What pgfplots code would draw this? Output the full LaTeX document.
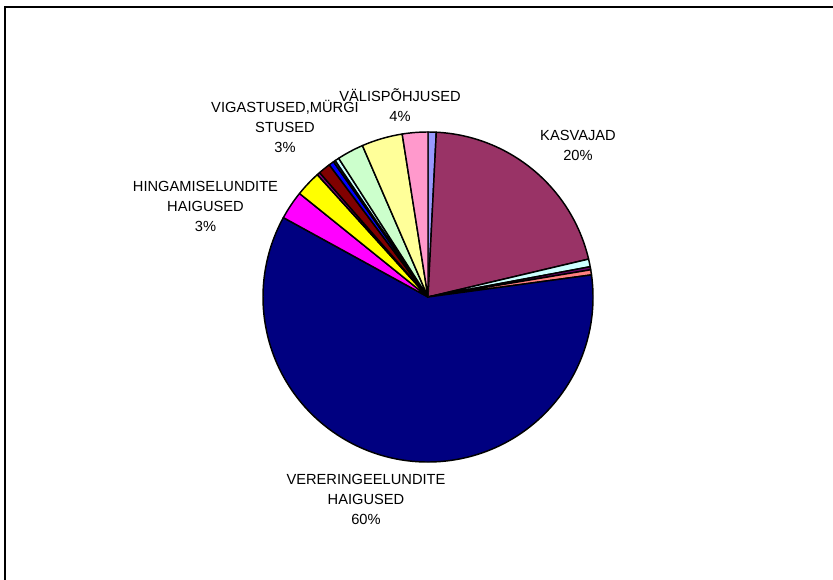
\documentclass[border=0pt]{standalone}
\usepackage{pgfplots}
\pgfplotsset{compat=1.18}
\usepackage{fontspec}
\setmainfont{Liberation Sans}
\definecolor{cPeri}{HTML}{9999FF}
\definecolor{cMaroon}{HTML}{993366}
\definecolor{cLCyan}{HTML}{CCFFFF}
\definecolor{cDPurple}{HTML}{660066}
\definecolor{cSalmon}{HTML}{FF8080}
\definecolor{cNavy}{HTML}{000080}
\definecolor{cMagenta}{HTML}{FF00FF}
\definecolor{cYellow}{HTML}{FFFF00}
\definecolor{cPurple}{HTML}{800080}
\definecolor{cDRed}{HTML}{800000}
\definecolor{cBlue}{HTML}{0000FF}
\definecolor{cTeal}{HTML}{008080}
\definecolor{cLGreen}{HTML}{CCFFCC}
\definecolor{cLYellow}{HTML}{FFFF99}
\definecolor{cPink}{HTML}{FF99CC}
% slice shares (percent), clockwise from 12 o'clock
\def\slicelist{0.8/cPeri, 20.5/cMaroon, 0.75/cLCyan, 0.3/cDPurple, 0.5/cSalmon, 60.1/cNavy, 2.8/cMagenta, 2.5/cYellow, 0.3/cPurple, 1.2/cDRed, 0.5/cBlue, 0.2/cTeal, 0.4/cLCyan, 2.6/cLGreen, 4.0/cLYellow, 2.5/cPink}
\begin{document}
\begin{tikzpicture}
\begin{axis}[
  name=ax, at={(0,0)}, anchor=south west,
  x=123.75pt, y=123.75pt,
  xmin=-2.5939, xmax=2.4545,
  ymin=-1.7091, ymax=1.8,
  hide axis, clip=false,
  font=\fontsize{11pt}{15pt}\selectfont,
]
% frame (top and left edges)
\draw[black, line width=0.8pt] (axis cs:-2.5636,-1.75) -- (axis cs:-2.5636,1.7576) -- (axis cs:2.5,1.7576);
% total
\gdef\total{0}
\foreach \v/\c in \slicelist {\pgfmathsetmacro{\tt}{\total+\v}\xdef\total{\tt}}
\gdef\cum{0}
\foreach \v/\c in \slicelist {
  \pgfmathsetmacro{\fa}{\cum/\total}
  \pgfmathsetmacro{\fb}{(\cum+\v)/\total}
  \pgfmathsetmacro{\a}{90-360*\fa}
  \pgfmathsetmacro{\b}{90-360*\fb}
  \pgfmathsetmacro{\xa}{cos(\a)}
  \pgfmathsetmacro{\ya}{sin(\a)}
  \edef\temp{\noexpand\draw[fill=\c, draw=black, line width=1.1pt, line join=round] (axis cs:0,0) -- (axis cs:\xa,\ya) arc[start angle=\a, end angle=\b, radius=123.75pt] -- cycle;}
  \temp
  \pgfmathsetmacro{\n}{\cum+\v}\xdef\cum{\n}
}
% labels
\node[align=center, anchor=center] at (axis cs:0.9091,0.9182) {KASVAJAD\\20\%};
\node[align=center, anchor=center] at (axis cs:-0.1697,1.1606) {VÄLISPÕHJUSED\\4\%};
\node[align=center, anchor=center] at (axis cs:-0.8667,1.0364) {VIGASTUSED,MÜRGI\\STUSED\\3\%};
\node[align=center, anchor=center] at (axis cs:-1.3485,0.5473) {HINGAMISELUNDITE\\HAIGUSED\\3\%};
\node[align=center, anchor=center] at (axis cs:-0.3758,-1.2242) {VERERINGEELUNDITE\\HAIGUSED\\60\%};
\end{axis}
\pgfresetboundingbox
\useasboundingbox (ax.south west) rectangle (ax.north east);
\end{tikzpicture}
\end{document}
